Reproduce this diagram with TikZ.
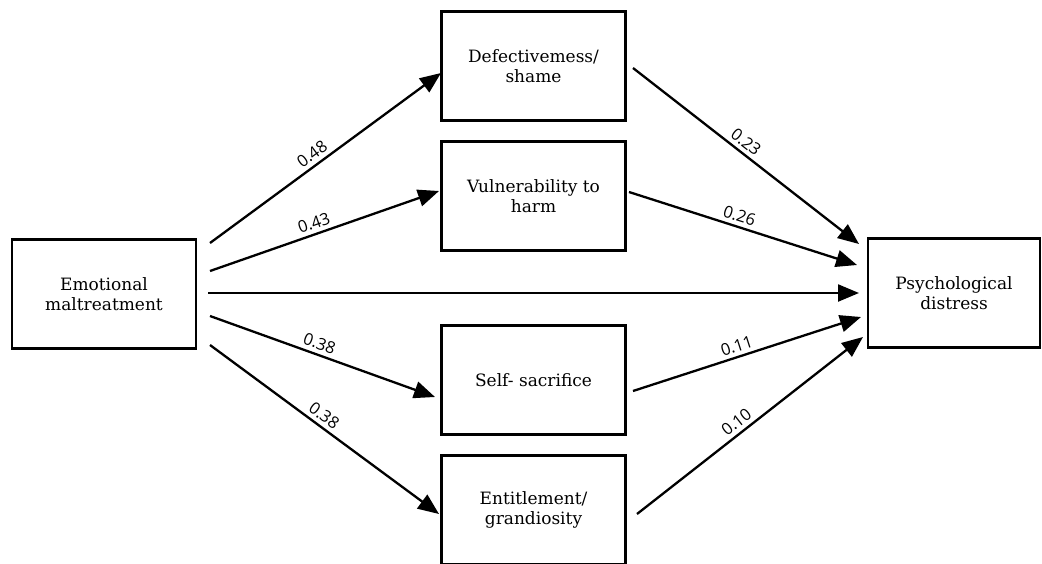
\documentclass[tikz,border=0pt]{standalone}
\usepackage{fontspec}
\setmainfont{DejaVu Serif}
\newfontfamily\labelfont{Open Sans}
\usetikzlibrary{arrows.meta,calc}
\begin{document}
\begin{tikzpicture}[x=1pt,y=-1pt,
  box/.style={draw,line width=2.3pt,minimum width=184pt,minimum height=109pt,align=center,
    font=\fontsize{17}{20.5}\selectfont,inner sep=0pt},
  arr/.style={line width=2.3pt,-{Triangle[length=21pt,width=17pt]}},
  lab/.style={font=\labelfont\fontsize{16.5}{18}\selectfont,sloped,above=0.5pt,pos=0.47}]
\clip (0,0) rectangle (1042,563);
\node[box] (em) at (104,294) {Emotional\\maltreatment};
\node[box] (def) at (533.5,66) {Defectivemess/\\shame};
\node[box] (vul) at (533.5,196) {Vulnerability to\\harm};
\node[box] (self) at (533.5,380) {Self- sacrifice};
\node[box] (ent) at (533.5,510) {Entitlement/\\grandiosity};
\node[box,minimum width=172pt] (psy) at (954,293) {Psychological\\distress};
% connector ends
\coordinate (e1) at (210,243);
\coordinate (e2) at (210,271);
\coordinate (e3) at (208,293);
\coordinate (e4) at (210,316);
\coordinate (e5) at (210,345);
\coordinate (d1) at (441,73);
\coordinate (v1) at (439,191);
\coordinate (s1) at (435,397);
\coordinate (n1) at (439,514);
\coordinate (d2) at (633,68);
\coordinate (v2) at (629,192);
\coordinate (s2) at (633,391);
\coordinate (n2) at (637,514);
\coordinate (p1) at (859,244);
\coordinate (p2) at (857,265);
\coordinate (p3) at (859,293);
\coordinate (p4) at (861,317);
\coordinate (p5) at (863,337);
\draw[arr] (e1) -- node[lab]{0.48} (d1);
\draw[arr] (e2) -- node[lab]{0.43} (v1);
\draw[arr] (e3) -- (p3);
\draw[arr] (e4) -- node[lab]{0.38} (s1);
\draw[arr] (e5) -- node[lab]{0.38} (n1);
\draw[arr] (d2) -- node[lab]{0.23} (p1);
\draw[arr] (v2) -- node[lab]{0.26} (p2);
\draw[arr] (s2) -- node[lab]{0.11} (p4);
\draw[arr] (n2) -- node[lab]{0.10} (p5);
\end{tikzpicture}
\end{document}
